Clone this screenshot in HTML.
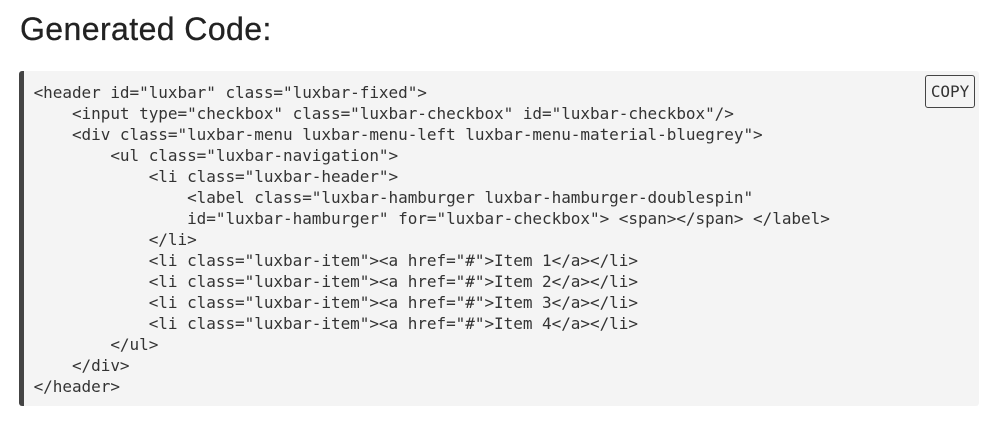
<!DOCTYPE html>
<html><head><meta charset="utf-8"><style>
html,body{margin:0;padding:0;background:#fff;width:997px;height:425px;overflow:hidden}
h1{position:absolute;left:20px;top:8px;margin:0;font:400 32px/42px "Liberation Sans",sans-serif;letter-spacing:.42px;-webkit-text-stroke:.3px #222;color:#222;white-space:nowrap}
#box{position:absolute;left:19px;top:71px;width:955px;height:335px;background:#f4f4f4;border-left:5px solid #444;border-radius:3px}
pre{position:absolute;left:33.6px;top:82px;margin:0;font:16px/21px "DejaVu Sans Mono",monospace;letter-spacing:-.04px;color:#333}
#copy{position:absolute;left:925px;top:75px;width:48px;height:31px;border:1px solid #444;border-radius:3px;font:16px/31px "DejaVu Sans Mono",monospace;letter-spacing:-.04px;color:#333;text-align:center}
</style></head><body>
<h1>Generated Code:</h1>
<div id="box"></div>
<pre>&lt;header id="luxbar" class="luxbar-fixed"&gt;
    &lt;input type="checkbox" class="luxbar-checkbox" id="luxbar-checkbox"/&gt;
    &lt;div class="luxbar-menu luxbar-menu-left luxbar-menu-material-bluegrey"&gt;
        &lt;ul class="luxbar-navigation"&gt;
            &lt;li class="luxbar-header"&gt;
                &lt;label class="luxbar-hamburger luxbar-hamburger-doublespin"
                id="luxbar-hamburger" for="luxbar-checkbox"&gt; &lt;span&gt;&lt;/span&gt; &lt;/label&gt;
            &lt;/li&gt;
            &lt;li class="luxbar-item"&gt;&lt;a href="#"&gt;Item 1&lt;/a&gt;&lt;/li&gt;
            &lt;li class="luxbar-item"&gt;&lt;a href="#"&gt;Item 2&lt;/a&gt;&lt;/li&gt;
            &lt;li class="luxbar-item"&gt;&lt;a href="#"&gt;Item 3&lt;/a&gt;&lt;/li&gt;
            &lt;li class="luxbar-item"&gt;&lt;a href="#"&gt;Item 4&lt;/a&gt;&lt;/li&gt;
        &lt;/ul&gt;
    &lt;/div&gt;
&lt;/header&gt;</pre>
<div id="copy">COPY</div>
</body></html>
